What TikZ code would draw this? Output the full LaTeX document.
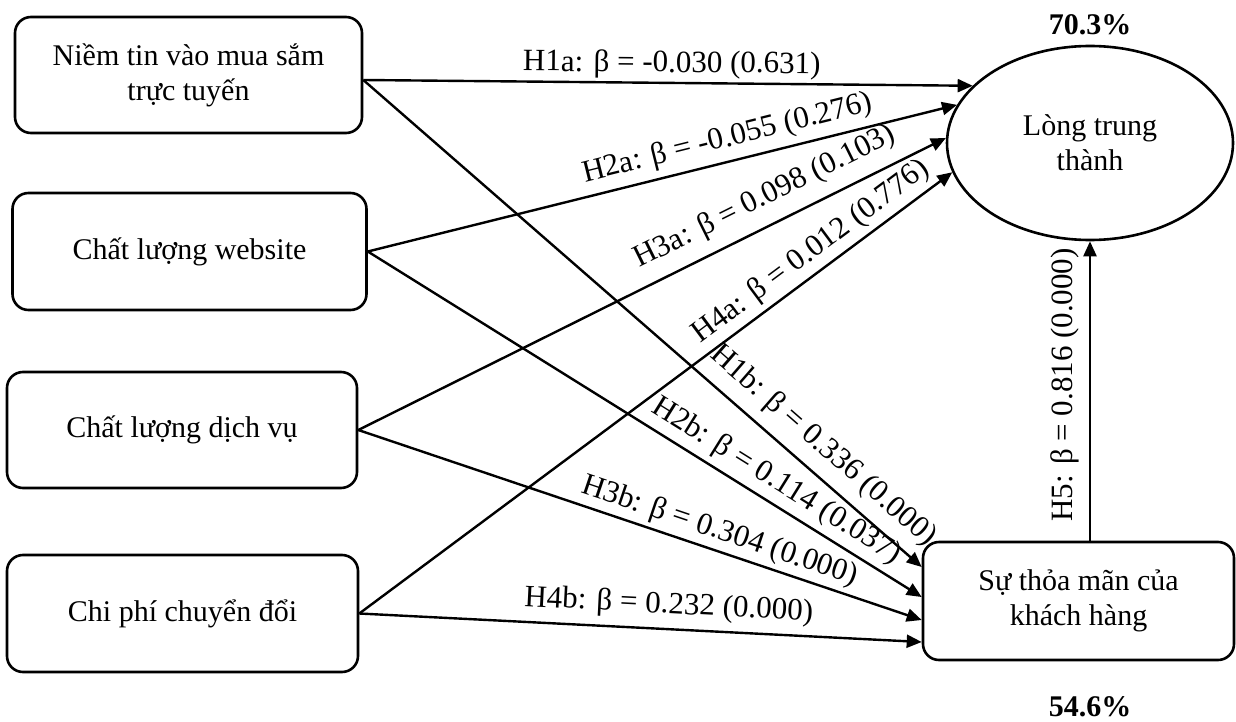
\documentclass[tikz,border=0pt]{standalone}
\usepackage{fontspec}
\setmainfont{Liberation Serif}
\usetikzlibrary{arrows.meta,shapes.geometric,calc}
\begin{document}
\begin{tikzpicture}[x=1pt,y=-1pt,
  box/.style={draw,line width=2.6pt,rounded corners=16pt,align=center,font=\fontsize{30}{35}\selectfont,inner sep=0pt},
  arr/.style={line width=2.4pt,-{Triangle[length=15pt,width=13pt]}},
  lab/.style={font=\fontsize{31}{35}\selectfont,sloped,above,inner sep=#1},
  lab/.default=3pt,
  pct/.style={font=\fontsize{30}{34}\selectfont\bfseries}]
\useasboundingbox (0,0) rectangle (1236,722);
% source boxes
\node[box,minimum width=347pt,minimum height=116pt] (b1) at (188.5,75) {Niềm tin vào mua sắm\\trực tuyến};
\node[box,minimum width=354pt,minimum height=117pt] (b2) at (189.5,251.5) {Chất lượng website};
\node[box,minimum width=350pt,minimum height=116pt] (b3) at (182,430) {Chất lượng dịch vụ};
\node[box,minimum width=351pt,minimum height=117pt] (b4) at (182.5,613.5) {Chi phí chuyển đổi};
% targets
\node[draw,ellipse,line width=2.6pt,minimum width=286pt,minimum height=194pt,align=center,inner sep=0pt,font=\fontsize{30}{35}\selectfont] (ell) at (1090,143) {Lòng trung\\thành};
\node[box,minimum width=311pt,minimum height=118pt] (sat) at (1078.5,601) {Sự thỏa mãn của\\khách hàng};
% percentages
\node[pct] (p1) at (1090,25) {70.3\%};
\node[pct] (p2) at (1090,707) {54.6\%};
% a-paths to loyalty
\draw[arr] ([yshift=-5pt]b1.east) -- node[lab=3pt,pos=0.506]{H1a: β = -0.030 (0.631)} (ell.154);
\draw[arr] (b2.east) -- node[lab=7pt,pos=0.62]{H2a: β = -0.055 (0.276)} (ell.164);
\draw[arr] (b3.east) -- node[lab=12pt,pos=0.713]{H3a: β = 0.098 (0.103)} (ell.178.4);
\draw[arr] (b4.east) -- node[lab=5pt,pos=0.782]{H4a: β = 0.012 (0.776)} (ell.192.4);
% b-paths to satisfaction
\draw[arr] ([yshift=-5pt]b1.east) -- node[lab=11pt,pos=0.792]{H1b: β = 0.336 (0.000)} ([yshift=34pt]sat.west);
\draw[arr] (b2.east) -- node[lab=6pt,pos=0.717]{H2b: β = 0.114 (0.037)} ([yshift=4pt]sat.west);
\draw[arr] (b3.east) -- node[lab=4pt,pos=0.63]{H3b: β = 0.304 (0.000)} ([yshift=-19pt]sat.west);
\draw[arr] (b4.east) -- node[lab=8pt,pos=0.548]{H4b: β = 0.232 (0.000)} ([yshift=-41pt]sat.west);
% H5
\draw[arr] (ell.south |- sat.north) -- node[lab=10pt,pos=0.52]{H5: β = 0.816 (0.000)} (ell.south);
\end{tikzpicture}
\end{document}
